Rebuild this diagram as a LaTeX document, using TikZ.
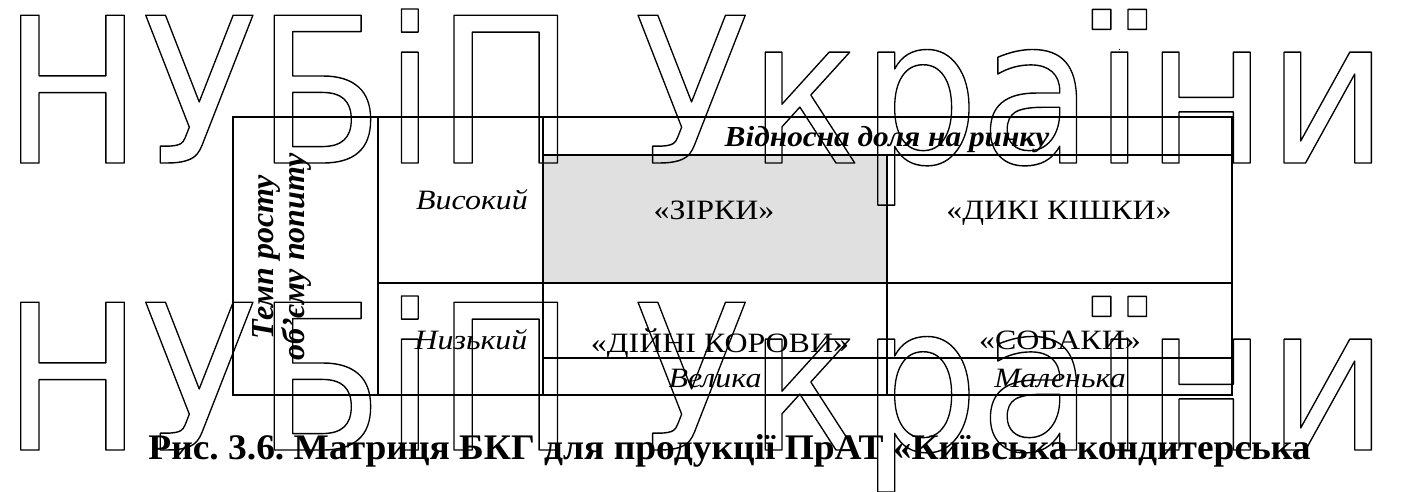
\documentclass[tikz,border=0pt]{standalone}
\usepackage{fontspec}
\setmainfont{Liberation Serif}
\newfontfamily\cellfont{Liberation Serif}[FakeStretch=1.14]
\newfontfamily\headfont{Liberation Serif}[FakeStretch=1.08]
\newfontfamily\capfont{Liberation Serif}[FakeStretch=1.04]
\newfontfamily\wmfont{DejaVu Sans}
\usepackage{graphicx}
\frenchspacing
\newcommand{\outlinetext}[1]{\special{pdf:literal direct 1 Tr 0.7 w 1 j 1 J}#1\special{pdf:literal direct 0 Tr}}
\begin{document}
\begin{tikzpicture}[x=0.5pt,y=-0.5pt,
  tline/.style={line width=0.9pt},
  cell/.style={inner sep=0pt, font=\cellfont\fontsize{14}{16}\selectfont},
  icell/.style={cell, font=\cellfont\fontsize{14}{16}\selectfont\itshape},
  hcell/.style={inner sep=0pt, font=\headfont\fontsize{14.5}{16}\selectfont\bfseries\itshape},
  vcell/.style={inner sep=0pt, font=\fontsize{16}{13}\selectfont\bfseries\itshape},
  wmark/.style={anchor=base west, inner sep=0pt}]
\useasboundingbox (0,0) rectangle (1405,492);
% shaded cell
\fill[black!12] (543,155) rectangle (887,283);
% table grid
\draw[tline] (233,117) rectangle (1232,395);
\draw[tline] (378,117) -- (378,395);
\draw[tline] (543,117) -- (543,395);
\draw[tline] (543,155) -- (1232,155);
\draw[tline] (887,155) -- (887,395);
\draw[tline] (378,283) -- (1232,283);
\draw[tline] (543,358) -- (1232,358);
% texts
\node[hcell, anchor=base] (head) at (887,147) {Відносна доля на ринку};
\node[vcell, rotate=90, align=center] (vh) at (282,257) {Темп росту\\об’єму попиту};
\node[icell, anchor=base] (vys) at (472,210) {Високий};
\node[icell, anchor=base] (niz) at (471,350) {Низький};
\node[cell, anchor=base] (zirky) at (714,220) {«ЗІРКИ»};
\node[cell, anchor=base] (dyki) at (1059,220) {«ДИКІ КІШКИ»};
\node[cell, anchor=base] (korovy) at (720,352) {«ДІЙНІ КОРОВИ»};
\node[cell, anchor=base] (sobaky) at (1060,350) {«СОБАКИ»};
\node[icell, anchor=base] (velyka) at (715,387) {Велика};
\node[icell, anchor=base] (mal) at (1060,387) {Маленька};
\node[anchor=base west, inner sep=0pt, font=\capfont\fontsize{18}{20}\selectfont\bfseries] (cap) at (148,459) {Рис. 3.6. Матриця БКГ для продукції ПрАТ «Київська кондитерська};
% watermark
\node[wmark] (wm1) at (2,163) {\resizebox{693pt}{77pt}{\wmfont\fontsize{100}{100}\selectfont\outlinetext{НУБіП України}}};
\node[wmark] (wm2) at (2,450) {\resizebox{693pt}{77pt}{\wmfont\fontsize{100}{100}\selectfont\outlinetext{НУБіП України}}};
\end{tikzpicture}
\end{document}
